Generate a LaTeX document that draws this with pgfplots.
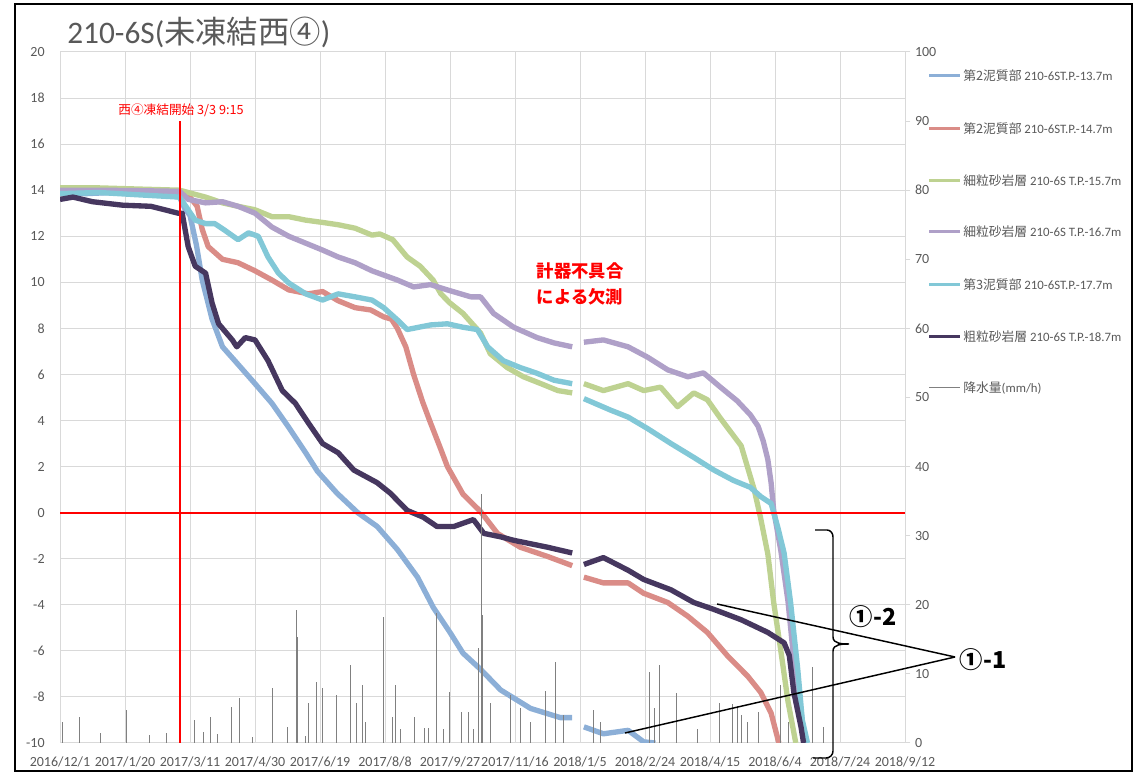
\documentclass[border=0pt]{standalone}
\usepackage{pgfplots}
\pgfplotsset{compat=1.18}
\usepackage{fontspec}
\setmainfont{Carlito}
\newfontfamily\jp{Noto Sans CJK JP}
\definecolor{cBlue}{RGB}{140,175,215}
\definecolor{cSalmon}{RGB}{218,140,135}
\definecolor{cGreen}{RGB}{190,210,145}
\definecolor{cPurple}{RGB}{175,160,200}
\definecolor{cCyan}{RGB}{130,200,215}
\definecolor{cNavy}{RGB}{70,55,95}
\definecolor{txt}{RGB}{89,89,89}
\definecolor{gridc}{RGB}{217,217,217}
\definecolor{rain}{RGB}{128,128,128}
\begin{document}
\begin{tikzpicture}
\path[use as bounding box] (0,0) rectangle (851.25pt,580.5pt);
\begin{axis}[
  at={(45pt,23.25pt)}, anchor=south west,
  scale only axis, width=633.75pt, height=518.25pt,
  xmin=0, xmax=650, ymin=-10, ymax=20,
  xtick={0,50,...,650},
  xticklabels={2016/12/1,2017/1/20,2017/3/11,2017/4/30,2017/6/19,2017/8/8,2017/9/27,2017/11/16,2018/1/5,2018/2/24,2018/4/15,2018/6/4,2018/7/24,2018/9/12},
  ytick={-10,-8,...,20},
  yticklabels={-10,-8,-6,-4,-2,0,2,4,6,8,10,12,14,16,18,20},
  grid=major, major grid style={draw=gridc, line width=0.75pt},
  axis line style={draw=none},
  major tick length=0pt,
  tick label style={font=\fontsize{10.5}{12}\selectfont, text=txt},
  yticklabel style={xshift=-8pt},
  xticklabel style={yshift=-7pt},
  unbounded coords=jump,
  every axis plot/.append style={line width=4pt, line join=round, no markers},
]
% 第2泥質部 -13.7m
\addplot[cBlue] coordinates {(0,13.9) (20,13.85) (40,13.9) (60,13.85) (80,13.8) (92,13.7) (96,13.2) (100,12.9) (105,11.6) (109.4,10.1) (117,8.4) (121,7.8) (125,7.2) (136,6.5) (150,5.6) (163,4.75) (176,3.7) (189,2.6) (198,1.8) (213,0.85) (229,0.0) (244,-0.6) (259.5,-1.6) (275,-2.8) (287,-4.1) (300,-5.2) (310,-6.1) (323.5,-6.8) (339,-7.7) (362,-8.5) (385,-8.9) (394,-8.9) (398,nan) (403,-9.3) (418,-9.6) (437,-9.45) (449,-9.95) (458,-10.0)};
% 第2泥質部 -14.7m
\addplot[cSalmon] coordinates {(0,14.0) (30,14.05) (60,14.0) (92,13.95) (100,13.7) (105.5,13.3) (109.4,12.3) (114,11.55) (125,11.0) (137,10.85) (150,10.5) (163,10.1) (176,9.67) (191,9.5) (202,9.6) (214,9.2) (227,8.9) (239,8.8) (249,8.5) (255,8.4) (259.5,8.0) (266,7.2) (272,6.0) (279,4.8) (285,3.9) (292.6,2.8) (298,2.0) (304,1.4) (310,0.8) (323.5,0.05) (336.5,-0.9) (354,-1.5) (375,-1.9) (394,-2.3) (398,nan) (403,-2.8) (418,-3.05) (437,-3.05) (449,-3.5) (467.5,-3.9) (483,-4.5) (498,-5.2) (514,-6.25) (529,-7.1) (539,-7.8) (547,-8.7) (553,-10.0)};
% 細粒砂岩層 -15.7m
\addplot[cGreen] coordinates {(0,14.1) (30,14.1) (60,14.05) (92,14.0) (98.6,13.9) (112,13.7) (125,13.45) (137,13.3) (150,13.15) (163,12.85) (176,12.85) (189,12.7) (202,12.6) (214,12.5) (227,12.35) (240,12.05) (246,12.1) (256,11.85) (267,11.1) (277,10.7) (287,10.1) (293,9.5) (300,9.1) (310,8.65) (323.5,7.8) (331,6.9) (344,6.3) (356.5,5.9) (370,5.6) (383,5.3) (394,5.2) (398,nan) (403,5.6) (418,5.3) (437,5.6) (449,5.3) (462,5.45) (475,4.6) (487.5,5.2) (498,4.9) (508,4.1) (524,2.9) (534,1.0) (539,-0.25) (544.5,-1.8) (549,-3.9) (554.5,-6.0) (560,-8.2) (566,-10)};
% 細粒砂岩層 -16.7m
\addplot[cPurple] coordinates {(0,14.0) (30,14.0) (60,13.98) (92,13.95) (98.6,13.6) (112,13.45) (125,13.5) (137,13.3) (150,13.0) (163,12.4) (176,12.0) (189,11.7) (202,11.4) (214,11.1) (227,10.85) (240,10.5) (259.5,10.1) (272,9.8) (285,9.9) (298,9.67) (316,9.37) (323.5,9.37) (333.5,8.65) (349,8.05) (367,7.6) (380,7.37) (394,7.2) (398,nan) (403,7.4) (418,7.5) (437,7.2) (452,6.75) (467.5,6.2) (483,5.9) (495,6.07) (508,5.45) (521,4.85) (531,4.25) (537,3.75) (541,3.1) (544.5,2.3) (547,1.3) (549,0.1) (554.5,-1.65) (560,-3.85) (564.5,-6.4) (570,-8.6) (573,-10)};
% 第3泥質部 -17.7m
\addplot[cCyan] coordinates {(0,13.85) (30,13.9) (60,13.8) (92,13.7) (98.6,13.15) (104,12.7) (112,12.55) (119,12.55) (127,12.25) (137,11.85) (145,12.15) (152.5,12.0) (160,11.1) (168,10.4) (176,9.97) (189,9.5) (202,9.23) (214,9.5) (227,9.37) (240,9.23) (249,8.9) (259.5,8.37) (267,7.95) (285,8.15) (298,8.2) (310,8.05) (321,7.95) (329,7.2) (341,6.6) (354,6.3) (367,6.05) (380,5.75) (394,5.6) (398,nan) (403,4.95) (423.6,4.45) (437,4.15) (452,3.65) (470,3.0) (487.5,2.4) (503,1.85) (518,1.4) (531,1.1) (539,0.7) (547,0.4) (552,-0.6) (557,-1.75) (562,-3.9) (567.5,-6.8) (571,-9.0) (575,-10)};
% 粗粒砂岩層 -18.7m
\addplot[cNavy] coordinates {(0,13.6) (10,13.7) (25,13.5) (48,13.35) (70,13.3) (91,13.0) (94,13.0) (98.6,11.55) (104,10.7) (112,10.4) (117,9.1) (122,8.2) (132.5,7.5) (136,7.2) (142.5,7.6) (150,7.5) (160,6.6) (171,5.3) (181,4.75) (191,3.9) (202,3.0) (214,2.6) (226,1.85) (244,1.3) (254,0.85) (267,0.1) (279.5,-0.2) (290,-0.6) (303,-0.6) (318,-0.3) (326,-0.9) (339,-1.05) (349,-1.2) (375,-1.5) (394,-1.75) (398,nan) (403,-2.25) (418,-1.95) (437,-2.5) (449,-2.9) (470,-3.35) (487.5,-3.9) (503,-4.2) (524,-4.65) (544.5,-5.2) (557,-5.65) (561,-6.2) (564.5,-7.8) (570,-9.3) (572,-10)};
% reference lines
\addplot[red, line width=1.5pt] coordinates {(0,0) (650,0)};
\addplot[red, line width=1.2pt] coordinates {(92.39,-10) (92.39,17)};
\end{axis}
\begin{axis}[
  at={(45pt,23.25pt)}, anchor=south west,
  scale only axis, width=633.75pt, height=518.25pt,
  xmin=0, xmax=650, ymin=0, ymax=100,
  axis x line=none, axis y line*=right,
  ytick={0,10,...,100},
  yticklabels={0,10,20,30,40,50,60,70,80,90,100},
  y axis line style={draw=gridc, line width=0.75pt, -},
  ytick style={draw=gridc, line width=0.75pt},
  tick align=outside, major tick length=4pt,
  tick label style={font=\fontsize{10.5}{12}\selectfont, text=txt},
]
\addplot[ycomb, rain, line width=0.6pt, no markers] coordinates {(1.5,3) (14.6,3.8) (31,1.5) (51,4.8) (69,1.2) (82,1.5) (103,3.3) (110,1.6) (116,3.8) (121,1.3) (132,5.2) (138,6.5) (148,0.8) (163,8.0) (175,2.3) (182,19.3) (182.5,15.3) (189,1.0) (191,5.8) (197,8.8) (202,8.0) (212.5,7.0) (223,11.3) (228,5.8) (232.5,8.4) (235,3.0) (249,18.3) (256,3.8) (258,8.4) (262,2.0) (272.6,3.8) (280,2.2) (283,2.2) (289.5,18.8) (295,2.0) (299.6,7.4) (309,4.5) (314,4.5) (318,2.0) (322,13.7) (324,36) (325,18.5) (331,5.8) (346.6,7) (354,5) (362,3) (373.5,7.5) (381,11.7) (387,4) (410.5,4.8) (416,3) (453,10.3) (457,5) (461,11.3) (474,7.2) (490.6,2) (507.5,5.8) (517,5.6) (521,5.3) (524,4) (529,3) (537,4.5) (554.5,8.4) (560,3) (579,11) (587,2.3)};
\end{axis}
\begin{scope}[shift={(0,580.5pt)}, x=0.75pt, y=-0.75pt]
\draw[line width=1.5pt] (15,4) rectangle (1132,771);
\node[anchor=west, text=txt, font=\fontsize{23.5}{26}\selectfont, inner sep=0pt] at (67,32) {210-6S({\jp 未凍結西④})};
\node[text=red, font={\jp\fontsize{9.5}{11}\selectfont}] at (181,110) {西④凍結開始 3/3 9:15};
\node[text=red, align=center, font={\jp\bfseries\fontsize{13}{19.5}\selectfont}] at (580,284) {計器不具合\\による欠測};
% annotations
\draw[line width=1.1pt] (955,657) -- (717,604);
\draw[line width=1.1pt] (955,657) -- (625,733);
\draw[line width=1.1pt] (815,530) -- (827,530) to[out=0,in=90] (833,537) -- (833,637) to[out=-90,in=180] (849,644) to[out=180,in=90] (833,651) -- (833,751) to[out=-90,in=0] (826,758) -- (813,758);
\node[font={\jp\bfseries\fontsize{17.5}{20}\selectfont}] at (873,617) {①-2};
\node[font={\jp\bfseries\fontsize{17.5}{20}\selectfont}] at (983,660) {①-1};
% legend
\foreach \yy/\cc/\lw in {76/cBlue/2.25pt,129/cSalmon/2.25pt,181/cGreen/2.25pt,232/cPurple/2.25pt,285/cCyan/2.25pt,337/cNavy/2.25pt,388/rain/0.75pt}{
  \draw[\cc, line width=\lw] (929,\yy) -- (960,\yy);
}
\begin{scope}[every node/.style={anchor=west, text=txt, inner sep=0pt, font=\fontsize{9.6}{11}\selectfont}]
\node at (963,76) {{\jp 第2泥質部} 210-6ST.P.-13.7m};
\node at (963,129) {{\jp 第2泥質部} 210-6ST.P.-14.7m};
\node at (963,181) {{\jp 細粒砂岩層} 210-6S T.P.-15.7m};
\node at (963,232) {{\jp 細粒砂岩層} 210-6S T.P.-16.7m};
\node at (963,285) {{\jp 第3泥質部} 210-6ST.P.-17.7m};
\node at (963,337) {{\jp 粗粒砂岩層} 210-6S T.P.-18.7m};
\node at (963,388) {{\jp 降水量}(mm/h)};
\end{scope}
\end{scope}
\end{tikzpicture}
\end{document}
